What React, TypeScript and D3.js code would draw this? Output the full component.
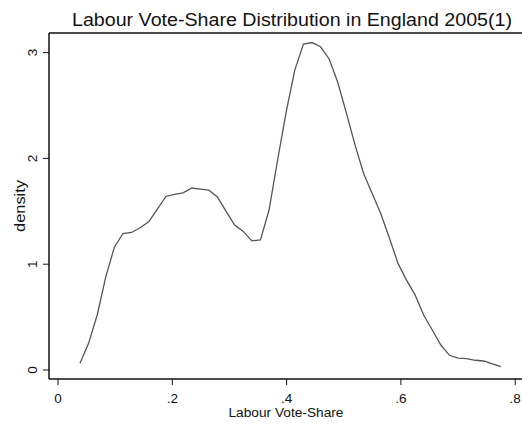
import React from "react";
import * as d3 from "d3";

const shareValues = [
  0.0385, 0.0535, 0.0686, 0.0836, 0.0986, 0.1137, 0.1287, 0.1437, 0.1588, 0.1738,
  0.1888, 0.2039, 0.2189, 0.2339, 0.2490, 0.2640, 0.2790, 0.2941, 0.3091, 0.3241,
  0.3392, 0.3542, 0.3692, 0.3843, 0.3993, 0.4143, 0.4294, 0.4444, 0.4594, 0.4745,
  0.4895, 0.5045, 0.5196, 0.5346, 0.5496, 0.5647, 0.5797, 0.5947, 0.6098, 0.6248,
  0.6398, 0.6549, 0.6699, 0.6849, 0.7000, 0.7150, 0.7300, 0.7451, 0.7601, 0.7751,
];
const densityValues = [
  0.063, 0.252, 0.52, 0.88, 1.16, 1.29, 1.30, 1.345, 1.40, 1.52,
  1.64, 1.66, 1.675, 1.72, 1.71, 1.70, 1.635, 1.50, 1.37, 1.31,
  1.22, 1.23, 1.51, 1.985, 2.44, 2.835, 3.08, 3.095, 3.055, 2.94,
  2.72, 2.43, 2.13, 1.86, 1.67, 1.48, 1.25, 1.01, 0.85, 0.71,
  0.52, 0.378, 0.236, 0.139, 0.113, 0.107, 0.092, 0.085, 0.057, 0.031,
];
const xTicks = [0, 0.2, 0.4, 0.6, 0.8];
const xTickLabels = ["0", ".2", ".4", ".6", ".8"];
const yTicks = [0, 1, 2, 3];
const yTickLabels = ["0", "1", "2", "3"];
const title = "Labour Vote-Share Distribution in England 2005(1)";
const xTitle = "Labour Vote-Share";
const yTitle = "density";

export default function App() {
  const W = 522, H = 425;
  const left = 49, right = 523, top = 33, bottom = 379;
  const x = d3.scaleLinear().domain([0, 0.8]).range([58, 515.2]);
  const y = d3.scaleLinear().domain([0, 3]).range([370, 52.6]);
  const pts = shareValues.map((s, i) => [s, densityValues[i]] as [number, number]);
  const line = d3.line<[number, number]>().x(d => x(d[0])).y(d => y(d[1]));
  const font = "'Liberation Sans', Arial, sans-serif";
  return (
    <svg width={W} height={H} style={{ position: "absolute", left: 0, top: 0, background: "#fff" }} fontFamily={font}>
      <rect x={0} y={0} width={W} height={H} fill="#fff" />
      <text x={292} y={25.5} textAnchor="middle" fontSize={17.5} fill="#111" textLength={440} lengthAdjust="spacingAndGlyphs">{title}</text>
      <line x1={left} x2={right} y1={top} y2={top} stroke="#111" strokeWidth={1.3} />
      <line x1={left} x2={left} y1={top} y2={bottom} stroke="#111" strokeWidth={1.5} />
      <line x1={left} x2={right} y1={bottom} y2={bottom} stroke="#111" strokeWidth={1.5} />
      {xTicks.map((t, i) => (
        <g key={"x" + i}>
          <line x1={x(t)} x2={x(t)} y1={bottom} y2={bottom + 6} stroke="#111" strokeWidth={1} />
          <text x={x(t)} y={403} textAnchor="middle" fontSize={13.5} fill="#111">{xTickLabels[i]}</text>
        </g>
      ))}
      {yTicks.map((t, i) => (
        <g key={"y" + i}>
          <line x1={left - 6} x2={left} y1={y(t)} y2={y(t)} stroke="#111" strokeWidth={1} />
          <text transform={`translate(37,${y(t)}) rotate(-90)`} textAnchor="middle" fontSize={13.5} fill="#111">{yTickLabels[i]}</text>
        </g>
      ))}
      <text x={286} y={417} textAnchor="middle" fontSize={12.5} fill="#111" textLength={115} lengthAdjust="spacingAndGlyphs">{xTitle}</text>
      <text transform={`translate(24.5,206) rotate(-90)`} textAnchor="middle" fontSize={14} fill="#111" textLength={52} lengthAdjust="spacingAndGlyphs">{yTitle}</text>
      <path d={line(pts) ?? ""} fill="none" stroke="#555" strokeWidth={1.3} />
    </svg>
  );
}
